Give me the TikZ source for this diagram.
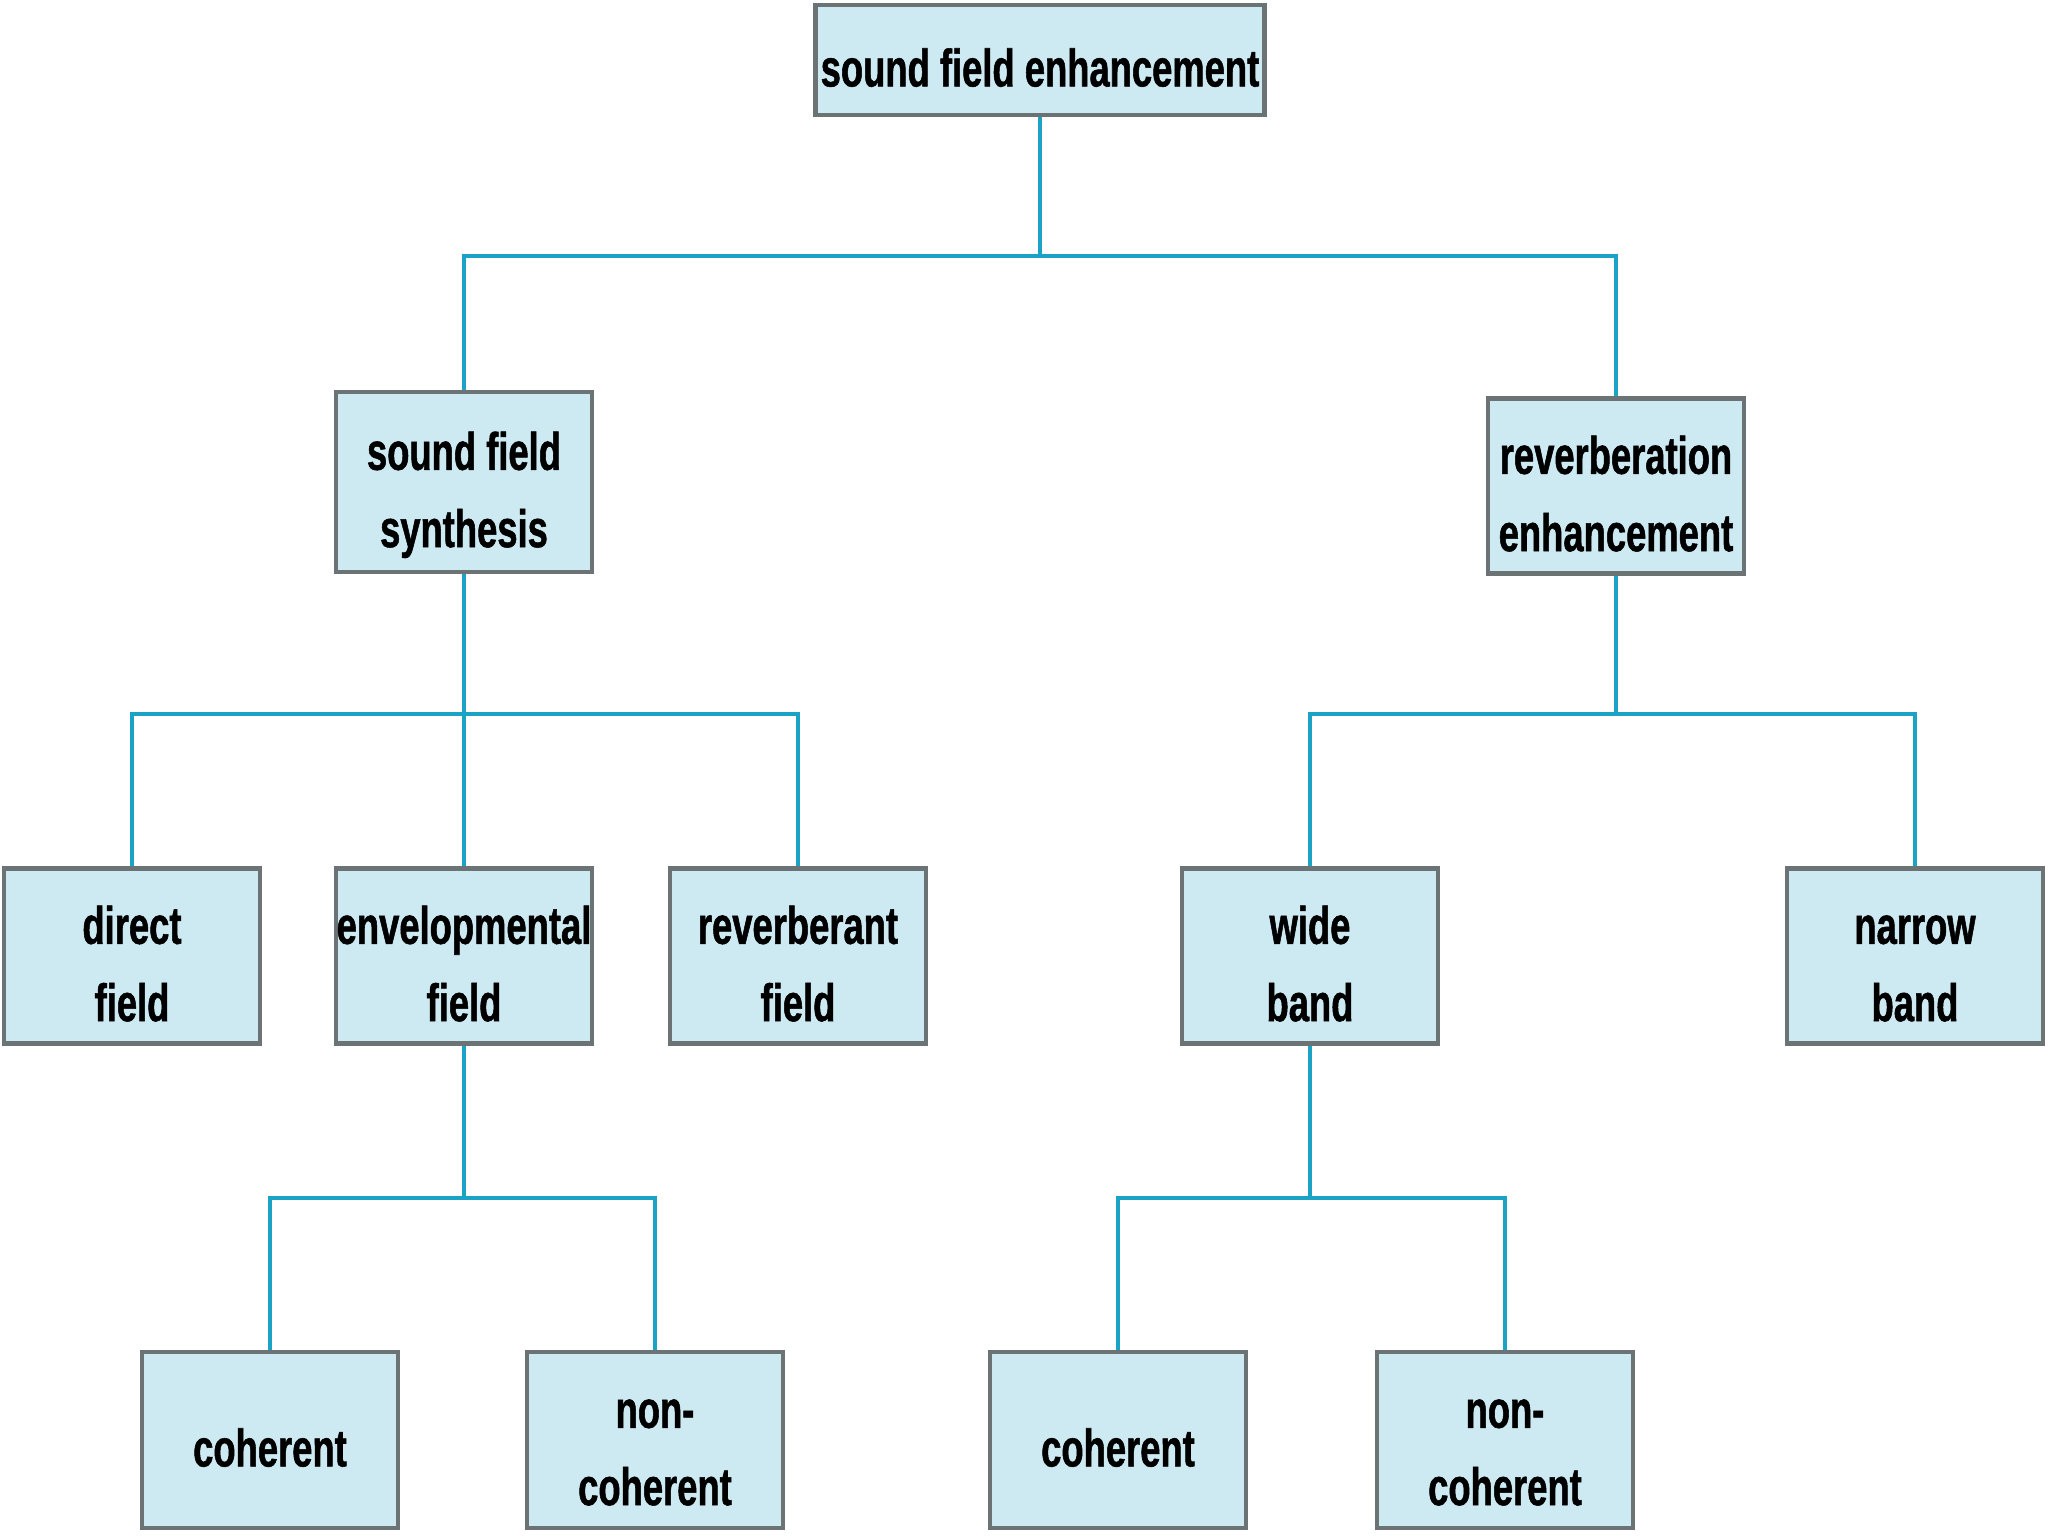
\documentclass[tikz,border=0pt]{standalone}
\usepackage{fontspec}
\newfontfamily\labfont[FakeStretch=0.69,FakeBold=1]{Liberation Sans}
\definecolor{boxfill}{HTML}{CDEAF2}
\definecolor{boxline}{HTML}{6B7375}
\definecolor{connline}{HTML}{1BA3C6}
\newcommand\boxtext[1]{\raisebox{-0.11cm}[\height][\depth]{\begin{tabular}{@{}c@{}}#1\end{tabular}}}
\tikzset{
  box/.style={draw=boxline, line width=1.3pt, fill=boxfill, minimum width=2.56cm, minimum height=1.75cm, inner sep=0pt, font=\labfont\bfseries\fontsize{15}{22}\selectfont},
  conn/.style={draw=connline, line width=1.1pt}
}
\begin{document}
\begin{tikzpicture}
\useasboundingbox (0,0) rectangle (20.48,-15.36);
\node[box, minimum width=4.49cm, minimum height=1.1cm] (top) at (10.40,-0.60) {\boxtext{sound field enhancement}};
\node[box, minimum height=1.80cm] (sfs) at (4.64,-4.82) {\boxtext{sound field\\synthesis}};
\node[box] (re) at (16.16,-4.86) {\boxtext{reverberation\\enhancement}};
\node[box] (direct) at (1.32,-9.56) {\boxtext{direct\\field}};
\node[box] (env) at (4.64,-9.56) {\boxtext{envelopmental\\field}};
\node[box] (rev) at (7.98,-9.56) {\boxtext{reverberant\\field}};
\node[box] (wide) at (13.10,-9.56) {\boxtext{wide\\band}};
\node[box] (narrow) at (19.15,-9.56) {\boxtext{narrow\\band}};
\node[box, minimum height=1.76cm] (coh1) at (2.70,-14.40) {\boxtext{coherent}};
\node[box, minimum height=1.76cm] (nc1) at (6.55,-14.40) {\boxtext{non-\\coherent}};
\node[box, minimum height=1.76cm] (coh2) at (11.18,-14.40) {\boxtext{coherent}};
\node[box, minimum height=1.76cm] (nc2) at (15.05,-14.40) {\boxtext{non-\\coherent}};
% level 1
\coordinate (b1) at (10.40,-2.56);
\draw[conn] (top.south) -- (b1);
\draw[conn] (sfs.north) |- (b1) -| (re.north);
% level 2 left
\coordinate (b2) at (4.64,-7.14);
\draw[conn] (sfs.south) -- (env.north);
\draw[conn] (direct.north) |- (b2) -| (rev.north);
% level 2 right
\coordinate (b3) at (16.16,-7.14);
\draw[conn] (re.south) -- (b3);
\draw[conn] (wide.north) |- (b3) -| (narrow.north);
% level 3 left
\coordinate (b4) at (4.64,-11.98);
\draw[conn] (env.south) -- (b4);
\draw[conn] (coh1.north) |- (b4) -| (nc1.north);
% level 3 right
\coordinate (b5) at (13.10,-11.98);
\draw[conn] (wide.south) -- (b5);
\draw[conn] (coh2.north) |- (b5) -| (nc2.north);
\end{tikzpicture}
\end{document}
